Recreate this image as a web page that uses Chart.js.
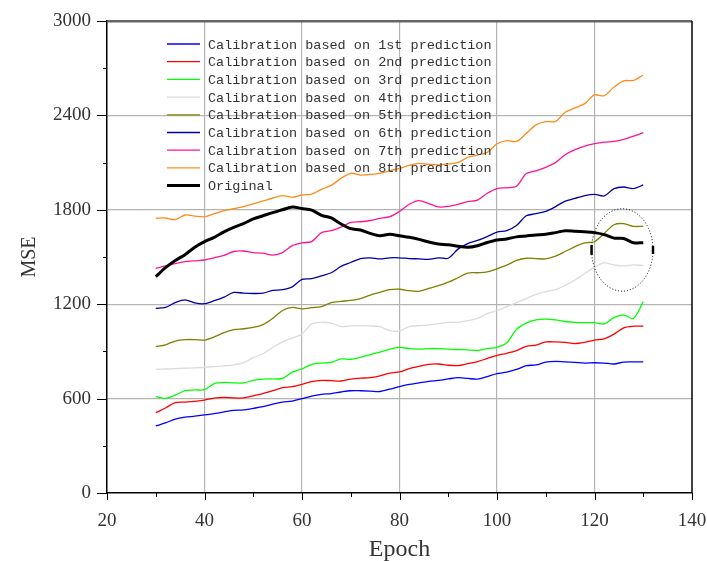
<!DOCTYPE html>
<html>
<head>
<meta charset="utf-8">
<script src="https://cdn.jsdelivr.net/npm/chart.js@4.4.1/dist/chart.umd.min.js"></script>
<style>
  html, body { margin: 0; padding: 0; background: #fff; }
  #wrap { width: 707px; height: 561px; }
</style>
</head>
<body>
<div id="wrap"><canvas id="chart" width="707" height="561"></canvas></div>
<script>
// Epochs sampled every 2 steps
const epochs = [30,32,34,36,38,40,42,44,46,48,50,52,54,56,58,60,62,64,66,68,70,72,74,76,78,80,
  82,84,86,88,90,92,94,96,98,100,102,104,106,108,110,112,114,116,118,120,122,124,126,128,130];

const cal1 = [426,445,470,482,488,496,505,515,525,528,538,549,565,578,584,600,616,627,632,642,650,650,648,645,660,676,
  690,700,710,716,725,733,728,724,740,758,769,785,809,814,832,837,833,830,826,828,826,820,832,833,833];
const cal2 = [510,540,575,578,582,591,603,608,604,605,618,632,650,670,676,690,708,716,714,712,724,730,733,745,762,770,
  790,805,818,820,812,810,822,835,855,875,888,905,932,940,960,960,957,950,958,972,980,1010,1050,1060,1061];
const cal3 = [612,602,622,650,655,657,695,703,700,700,716,724,725,728,768,788,818,826,830,852,850,862,880,896,915,926,
  918,915,918,918,915,912,910,905,918,926,955,1040,1080,1100,1105,1100,1090,1085,1083,1083,1075,1115,1130,1110,1216];
const cal4 = [786,788,790,793,795,799,803,808,815,828,860,885,925,960,985,1010,1075,1085,1080,1058,1062,1064,1062,1058,1032,1030,
  1058,1064,1068,1076,1085,1085,1095,1110,1140,1160,1185,1210,1236,1262,1280,1292,1320,1354,1395,1434,1462,1450,1443,1450,1446];
const cal5 = [930,942,966,975,975,972,992,1020,1038,1044,1052,1070,1110,1160,1180,1170,1178,1185,1210,1218,1224,1236,1258,1275,1292,1295,
  1286,1282,1300,1318,1340,1368,1398,1400,1405,1425,1448,1478,1492,1490,1488,1505,1535,1566,1590,1597,1650,1705,1712,1695,1695];
const cal6 = [1174,1180,1210,1228,1208,1203,1222,1245,1275,1270,1268,1270,1288,1292,1310,1358,1362,1380,1400,1440,1465,1490,1495,1488,1495,1495,
  1490,1488,1485,1495,1492,1550,1585,1605,1630,1658,1668,1700,1762,1775,1790,1820,1855,1872,1890,1898,1888,1935,1945,1935,1958];
const cal7 = [1428,1443,1458,1470,1476,1481,1495,1510,1535,1538,1528,1524,1512,1528,1572,1590,1598,1655,1667,1690,1720,1724,1732,1745,1756,1790,
  1835,1858,1840,1818,1822,1835,1852,1862,1905,1935,1940,1950,2030,2048,2070,2100,2150,2182,2205,2220,2230,2235,2248,2268,2290];
const cal8 = [1746,1748,1738,1767,1760,1756,1775,1794,1808,1820,1838,1856,1875,1890,1880,1894,1900,1930,1955,2000,2032,2021,2025,2032,2048,2064,
  2082,2095,2088,2085,2092,2100,2134,2148,2165,2220,2240,2235,2285,2340,2360,2362,2420,2448,2475,2530,2525,2580,2620,2622,2657];
const original = [1375,1432,1478,1515,1562,1598,1625,1660,1688,1712,1742,1762,1782,1800,1818,1808,1798,1765,1748,1710,1680,1672,1650,1635,1645,1635,
  1625,1612,1595,1582,1578,1568,1562,1572,1592,1608,1615,1628,1634,1640,1644,1655,1667,1664,1660,1655,1642,1620,1618,1590,1591];

const seriesNames = [
  'Calibration based on 1st prediction',
  'Calibration based on 2nd prediction',
  'Calibration based on 3rd prediction',
  'Calibration based on 4th prediction',
  'Calibration based on 5th prediction',
  'Calibration based on 6th prediction',
  'Calibration based on 7th prediction',
  'Calibration based on 8th prediction',
  'Original'
];
const seriesValues = [cal1, cal2, cal3, cal4, cal5, cal6, cal7, cal8, original];
const seriesColors = ['#0000ff', '#ff0000', '#00ff00', '#dcdcdc', '#808000', '#0000a0', '#ff1493', '#ff8c1a', '#000000'];

const xTicks = [20, 40, 60, 80, 100, 120, 140];
const yTicks = [0, 600, 1200, 1800, 2400, 3000];

// highlighted region (dotted ellipse)
const ellipseCenter = { x: 125.7, y: 1545 };
const ellipseRadius = { x: 6.3, y: 262 };

const serif = "'Liberation Serif', 'DejaVu Serif', serif";
const mono = "'Liberation Mono', 'DejaVu Sans Mono', monospace";

const datasets = seriesNames.map((name, i) => ({
  label: name,
  data: epochs.map((e, j) => ({ x: e, y: seriesValues[i][j] })),
  borderColor: seriesColors[i],
  backgroundColor: seriesColors[i],
  borderWidth: i === 8 ? 3 : 1.3,
  pointRadius: 0,
  tension: 0.3,
  fill: false,
  order: i === 8 ? 0 : 1
}));

// axes decorations: tick marks, frame, legend, ellipse
const decor = {
  id: 'decor',
  beforeDatasetsDraw(chart) {
    const ctx = chart.ctx;
    const x = chart.scales.x, y = chart.scales.y;
    const a = chart.chartArea;
    ctx.save();
    ctx.strokeStyle = '#000';
    ctx.lineWidth = 1;
    // x tick marks (major every 20, minor every 10)
    for (let v = 20; v <= 140; v += 10) {
      const px = Math.round(x.getPixelForValue(v)) + 0.5;
      const len = (v % 20 === 0) ? 7 : 4;
      ctx.beginPath(); ctx.moveTo(px, a.bottom); ctx.lineTo(px, a.bottom + len); ctx.stroke();
    }
    // y tick marks (major every 600, minor every 300)
    for (let v = 0; v <= 3000; v += 300) {
      const py = Math.round(y.getPixelForValue(v)) + 0.5;
      const len = (v % 600 === 0) ? 10 : 4;
      ctx.beginPath(); ctx.moveTo(a.left - len, py); ctx.lineTo(a.left, py); ctx.stroke();
    }
    // right border
    ctx.lineWidth = 1.5;
    ctx.beginPath(); ctx.moveTo(a.right, a.top); ctx.lineTo(a.right, a.bottom); ctx.stroke();
    ctx.restore();
  },
  afterDatasetsDraw(chart) {
    const ctx = chart.ctx;
    const x = chart.scales.x, y = chart.scales.y;
    ctx.save();
    // dotted ellipse
    const cx = x.getPixelForValue(ellipseCenter.x);
    const cy = y.getPixelForValue(ellipseCenter.y);
    const rx = x.getPixelForValue(ellipseCenter.x + ellipseRadius.x) - cx;
    const ry = cy - y.getPixelForValue(ellipseCenter.y + ellipseRadius.y);
    ctx.strokeStyle = '#000';
    ctx.lineWidth = 1;
    ctx.setLineDash([1, 2]);
    ctx.beginPath(); ctx.ellipse(cx, cy, rx, ry, 0, 0, Math.PI * 2); ctx.stroke();
    ctx.setLineDash([]);
    ctx.lineWidth = 2.5;
    ctx.beginPath(); ctx.moveTo(cx - rx, cy - 5); ctx.lineTo(cx - rx, cy + 5); ctx.stroke();
    ctx.beginPath(); ctx.moveTo(cx + rx, cy - 4); ctx.lineTo(cx + rx, cy + 4); ctx.stroke();

    // legend
    ctx.font = '13.5px ' + mono;
    ctx.textBaseline = 'middle';
    ctx.textAlign = 'left';
    seriesNames.forEach((name, i) => {
      const ly = 44 + i * 17.7;
      ctx.strokeStyle = seriesColors[i];
      ctx.lineWidth = i === 8 ? 3 : 1.3;
      ctx.beginPath(); ctx.moveTo(167, ly); ctx.lineTo(200, ly); ctx.stroke();
      ctx.fillStyle = '#333';
      ctx.fillText(name, 208, ly + 1);
    });
    ctx.restore();
  }
};

new Chart(document.getElementById('chart'), {
  type: 'line',
  data: { datasets },
  options: {
    responsive: false,
    animation: false,
    layout: { padding: { left: 0, right: 15, top: 21, bottom: 0 } },
    plugins: { legend: { display: false }, tooltip: { enabled: false } },
    scales: {
      x: {
        type: 'linear',
        min: 20, max: 140,
        afterBuildTicks: s => { s.ticks = xTicks.map(v => ({ value: v })); },
        afterFit: s => { s.height = 68; s.paddingLeft = 0; s.paddingRight = 0; },
        grid: {
          drawTicks: false,
          color: c => (c.tick && (c.tick.value === 20 || c.tick.value === 140)) ? 'rgba(0,0,0,0)' : '#b4b4b4',
          lineWidth: 1.2
        },
        border: { color: '#000', width: 1.5 },
        ticks: { padding: 17, color: '#333', font: { family: serif, size: 19 }, maxRotation: 0,
          callback: v => String(v) },
        title: { display: true, text: 'Epoch', color: '#333', font: { family: serif, size: 24 }, padding: { top: 0, bottom: -3 } }
      },
      y: {
        min: 0, max: 3000,
        afterBuildTicks: s => { s.ticks = yTicks.map(v => ({ value: v })); },
        afterFit: s => { s.width = 107; s.paddingTop = 0; s.paddingBottom = 0; },
        grid: {
          drawTicks: false,
          color: c => {
            if (!c.tick) return '#b4b4b4';
            if (c.tick.value === 0) return 'rgba(0,0,0,0)';
            if (c.tick.value === 3000) return '#666';
            return '#b4b4b4';
          },
          lineWidth: c => (c.tick && c.tick.value === 3000) ? 2.5 : 1.2
        },
        border: { color: '#000', width: 1.5 },
        ticks: { padding: 16, color: '#333', font: { family: serif, size: 19 }, callback: v => String(v) },
        title: { display: true, text: 'MSE', color: '#333', font: { family: serif, size: 20 }, padding: { top: 18, bottom: 0 } }
      }
    }
  },
  plugins: [decor]
});
</script>
</body>
</html>
